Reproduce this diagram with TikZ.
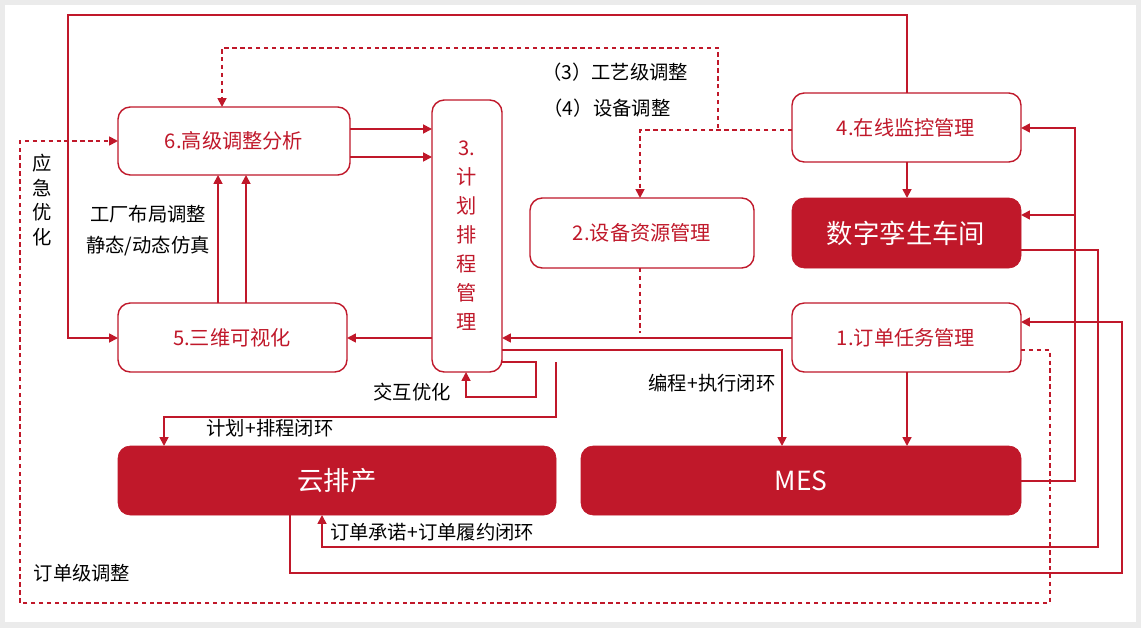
\documentclass[tikz,border=0pt]{standalone}
\usepackage{fontspec}
\setmainfont{Noto Sans CJK SC}
\usetikzlibrary{arrows.meta}
\definecolor{rd}{HTML}{C0182A}
\begin{document}
\begin{tikzpicture}[x=0.02cm,y=-0.02cm,
  box/.style={draw=rd,line width=0.8pt,rounded corners=7pt,fill=white},
  dark/.style={draw=rd,fill=rd,rounded corners=7pt},
  bt/.style={text=rd,font=\fontsize{11.5}{13}\selectfont},
  dtx/.style={text=white,font=\fontsize{15}{17}\selectfont},
  ln/.style={draw=rd,line width=1pt,-{Triangle[length=5pt,width=5pt]}},
  dt/.style={draw=rd,line width=1pt,dash pattern=on 2.5pt off 2pt},
  lb/.style={font=\fontsize{11}{13}\selectfont,text=black}]
\fill[black!8] (0,0) rectangle (1141,628);
\fill[white] (5,5) rectangle (1136,622);
\useasboundingbox (0,0) rectangle (1141,628);
\path[box] (118,107) rectangle (350,175); \node[bt] (n6) at (234,141) {6.高级调整分析};
\path[box] (432,100) rectangle (502,372); \node[text=rd,font=\fontsize{11.5}{16.5}\selectfont,align=center] (n3) at (467,236) {3.\\计\\划\\排\\程\\管\\理};
\path[box] (118,303) rectangle (347,372); \node[bt] (n5) at (232,338) {5.三维可视化};
\path[box] (530,198) rectangle (754,268); \node[bt] (n2) at (642,233) {2.设备资源管理};
\path[box] (792,93) rectangle (1021,162); \node[bt] (n4) at (906,128) {4.在线监控管理};
\path[dark] (792,198) rectangle (1021,268); \node[dtx] (dt) at (906,233) {数字孪生车间};
\path[box] (792,303) rectangle (1021,372); \node[bt] (n1) at (906,338) {1.订单任务管理};
\path[dark] (118,446) rectangle (556,515); \node[dtx] (yp) at (337,481) {云排产};
\path[dark] (581,446) rectangle (1021,515); \node[dtx] (mes) at (801,481) {MES};
% connectors
\draw[ln] (907,93) -- (907,15) -- (68,15) -- (68,338) -- (118,338);
\draw[dt,-{Triangle[length=5pt,width=5pt]}] (718,128) -- (718,48) -- (222,48) -- (222,107);
\draw[dt,-{Triangle[length=5pt,width=5pt]}] (792,130) -- (640,130) -- (640,198);
\draw[dt] (640,268) -- (640,333);
\draw[ln] (350,129) -- (432,129);
\draw[ln] (350,157) -- (432,157);
\draw[ln] (218,303) -- (218,175);
\draw[ln] (246,303) -- (246,175);
\draw[ln] (432,338) -- (347,338);
\draw[ln] (792,338) -- (502,338);
\draw[ln] (502,350) -- (782,350) -- (782,446);
\draw[ln] (502,362) -- (536,362) -- (536,397) -- (466,397) -- (466,372);
\draw[ln] (556,362) -- (556,417) -- (164,417) -- (164,446);
\draw[ln] (907,162) -- (907,198);
\draw[ln] (907,372) -- (907,446);
\draw[ln] (1021,481) -- (1075,481) -- (1075,128) -- (1021,128);
\draw[ln] (1075,215) -- (1021,215);
\draw[ln] (1021,250) -- (1098,250) -- (1098,547) -- (322,547) -- (322,515);
\draw[ln] (290,515) -- (290,573) -- (1122,573) -- (1122,322) -- (1021,322);
\draw[dt,-{Triangle[length=5pt,width=5pt]}] (1021,350) -- (1050,350) -- (1050,603) -- (20,603) -- (20,141) -- (118,141);
% labels
\node[lb] (l1) at (148,214) {工厂布局调整};
\node[lb] (l2) at (148,246) {静态/动态仿真};
\node[lb,align=center,font=\fontsize{11}{14}\selectfont] (l3) at (42,200) {应\\急\\优\\化};
\node[lb] (l4) at (82,573) {订单级调整};
\node[lb] (l5) at (412,392) {交互优化};
\node[lb] (l6) at (270,428) {计划+排程闭环};
\node[lb] (l7) at (712,383) {编程+执行闭环};
\node[lb] (l8) at (432,532) {订单承诺+订单履约闭环};
\node[lb] (l9) at (615,72) {（3）工艺级调整};
\node[lb] (l10) at (607,108) {（4）设备调整};
\end{tikzpicture}
\end{document}
